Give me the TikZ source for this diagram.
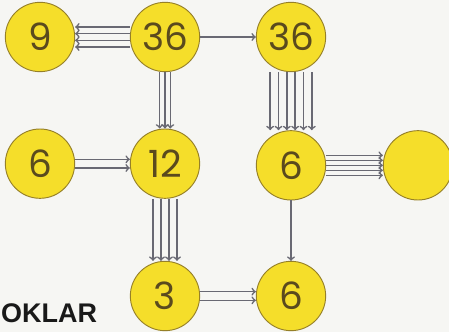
\documentclass[tikz,border=0pt]{standalone}
\usepackage{fontspec}
\setmainfont{Liberation Sans}
\newfontfamily\digitfont{Poppins}
\usepackage{tikz}

\definecolor{ball}{RGB}{245,222,42}
\definecolor{rim}{RGB}{150,128,40}
\definecolor{ink}{RGB}{90,74,30}
\definecolor{wire}{RGB}{105,105,115}
\definecolor{paper}{RGB}{246,246,243}

\begin{document}
\begin{tikzpicture}[
  num/.style={circle, draw=rim, line width=0.8pt, fill=ball, minimum size=2.08cm, inner sep=0pt, text=ink, font=\digitfont\fontsize{32}{32}\selectfont},
  arr/.style={->, draw=wire, line width=1.4pt}
]
\fill[paper] (0,0) rectangle (13.47,9.96);
\useasboundingbox (0,0) rectangle (13.47,9.96);

% the balls
\node[num] (n9) at (1.2,8.85) {9};
\node[num] (n36a) at (4.95,8.85) {36};
\node[num] (n36b) at (8.73,8.85) {36};
\node[num] (n6a) at (1.2,5.05) {6};
\node[num] (n12) at (4.95,5.05) {12};
\node[num] (n6b) at (8.73,5.0) {6};
\node[num] (nE) at (12.54,5.0) {};
\node[num] (n3) at (4.95,1.08) {3};
\node[num] (n6c) at (8.73,1.08) {6};

\node[font=\bfseries\fontsize{23}{23}\selectfont, anchor=base west, inner sep=0pt, text=black!90] (title) at (0.03,0.27) {OKLAR};

% 36 -> 9
\draw[arr] ([yshift=0.3cm]n36a.west) -- ([yshift=0.3cm]n9.east);
\draw[arr] ([yshift=0.1cm]n36a.west) -- ([yshift=0.1cm]n9.east);
\draw[arr] ([yshift=-0.1cm]n36a.west) -- ([yshift=-0.1cm]n9.east);
\draw[arr] ([yshift=-0.3cm]n36a.west) -- ([yshift=-0.3cm]n9.east);

% 36 -> 36
\draw[arr] (n36a.east) -- (n36b.west);

% 36 -> 12
\draw[arr] ([xshift=-0.16cm]n36a.south) -- ([xshift=-0.16cm]n12.north);
\draw[arr] (n36a.south) -- (n12.north);
\draw[arr] ([xshift=0.16cm]n36a.south) -- ([xshift=0.16cm]n12.north);

% 6 -> 12
\draw[arr] ([yshift=0.13cm]n6a.east) -- ([yshift=0.13cm]n12.west);
\draw[arr] ([yshift=-0.13cm]n6a.east) -- ([yshift=-0.13cm]n12.west);

% 12 -> 3
\draw[arr] ([xshift=-0.36cm]n12.south) -- ([xshift=-0.36cm]n3.north);
\draw[arr] ([xshift=-0.12cm]n12.south) -- ([xshift=-0.12cm]n3.north);
\draw[arr] ([xshift=0.12cm]n12.south) -- ([xshift=0.12cm]n3.north);
\draw[arr] ([xshift=0.36cm]n12.south) -- ([xshift=0.36cm]n3.north);

% 3 -> 6
\draw[arr] ([yshift=0.13cm]n3.east) -- ([yshift=0.13cm]n6c.west);
\draw[arr] ([yshift=-0.13cm]n3.east) -- ([yshift=-0.13cm]n6c.west);

% 36 -> 6
\draw[arr] ([xshift=-0.625cm]n36b.south) -- ([xshift=-0.625cm]n6b.north);
\draw[arr] ([xshift=-0.375cm]n36b.south) -- ([xshift=-0.375cm]n6b.north);
\draw[arr] ([xshift=-0.125cm]n36b.south) -- ([xshift=-0.125cm]n6b.north);
\draw[arr] ([xshift=0.125cm]n36b.south) -- ([xshift=0.125cm]n6b.north);
\draw[arr] ([xshift=0.375cm]n36b.south) -- ([xshift=0.375cm]n6b.north);
\draw[arr] ([xshift=0.625cm]n36b.south) -- ([xshift=0.625cm]n6b.north);

% 6 -> empty ball
\draw[arr] ([yshift=0.3cm]n6b.east) -- ([yshift=0.3cm]nE.west);
\draw[arr] ([yshift=0.15cm]n6b.east) -- ([yshift=0.15cm]nE.west);
\draw[arr] (n6b.east) -- (nE.west);
\draw[arr] ([yshift=-0.15cm]n6b.east) -- ([yshift=-0.15cm]nE.west);
\draw[arr] ([yshift=-0.3cm]n6b.east) -- ([yshift=-0.3cm]nE.west);

% 6 -> 6
\draw[arr] (n6b.south) -- (n6c.north);
\end{tikzpicture}
\end{document}
